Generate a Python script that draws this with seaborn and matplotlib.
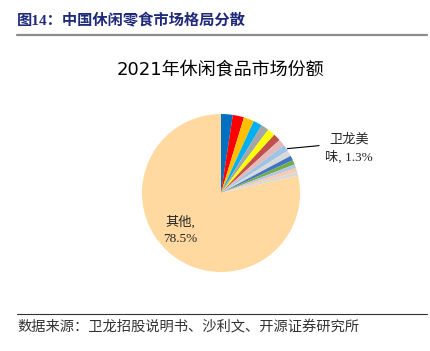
import numpy as np
import seaborn as sns
import matplotlib.pyplot as plt

# pie slices, clockwise from 12 o'clock
brands = ["b1", "b2", "b3", "b4", "b5", "b6", "b7", "b8", "卫龙美味",
          "b10", "b11", "b12", "b13", "b14", "b15", "其他"]
shares = [2.4, 2.3, 2.1, 1.8, 1.6, 1.6, 1.5, 1.4, 1.3,
          1.2, 1.0, 0.9, 0.8, 0.8, 0.8, 78.5]
colors = ["#0070C0", "#FF0000", "#FFC000", "#00B0F0", "#A5A5A5", "#FFFF00",
          "#C0504D", "#E6B9B8", "#9DC3E6", "#D9D9D9", "#4472C4", "#70AD47",
          "#B4C7E7", "#F8CBAD", "#D9D9D9", "#FFD9A0"]

title = "2021年休闲食品市场份额"
header = "图14：中国休闲零食市场格局分散"
source = "数据来源：卫龙招股说明书、沙利文、开源证券研究所"

sns.set_theme(style="white")
plt.rcParams['font.family'] = ['Liberation Serif', 'Noto Sans CJK SC']

W, H = 430, 351
fig = plt.figure(figsize=(W / 100, H / 100), dpi=100)
fig.patch.set_facecolor("white")

# header and footer
fig.text(17 / W, 1 - 21 / H, header, ha="left", va="center", fontsize=11,
         fontweight="bold", color="#1F2A7A",
         family=['Liberation Serif', 'Noto Sans CJK SC'])
fig.add_artist(plt.Line2D([17 / W, 427 / W], [1 - 35 / H, 1 - 35 / H],
                          color="#8C8C8C", lw=1.6))
fig.add_artist(plt.Line2D([17 / W, 427 / W], [1 - 314 / H, 1 - 314 / H],
                          color="#333333", lw=0.8))
fig.text(17 / W, 1 - 327 / H, source, ha="left", va="center", fontsize=10.3,
         color="#333333")
fig.text(220 / W, 1 - 70 / H, title, ha="center", va="center", fontsize=13,
         color="black", family=['DejaVu Sans', 'Noto Sans CJK SC'])

# pie
cx, cy, r = 221, 193, 79
ax = fig.add_axes([(cx - r) / W, (H - cy - r) / H, 2 * r / W, 2 * r / H])
wedges, _ = ax.pie(shares, colors=colors, startangle=90, counterclock=False,
                   radius=1, wedgeprops=dict(linewidth=0))
ax.set_xlim(-1, 1)
ax.set_ylim(-1, 1)
ax.set_aspect("equal")
ax.axis("off")

# label for 卫龙
w = wedges[brands.index("卫龙美味")]
ang = np.deg2rad((w.theta1 + w.theta2) / 2)
x0, y0 = 0.98 * np.cos(ang), 0.98 * np.sin(ang)
ax.annotate(f"卫龙美\n味, {shares[brands.index('卫龙美味')]}%",
            xy=(x0, y0), xytext=(1.62, 0.56), ha="center", va="center",
            fontsize=9.5, linespacing=1.5, annotation_clip=False,
            arrowprops=dict(arrowstyle="-", color="black", lw=0.8,
                            relpos=(0, 0.62)))

# label for 其他
ax.text(-0.52, -0.47, f"其他,\n{shares[-1]}%", ha="center", va="center",
        fontsize=9.5, linespacing=1.5)

fig.savefig("out.png", dpi=100, facecolor="white")
